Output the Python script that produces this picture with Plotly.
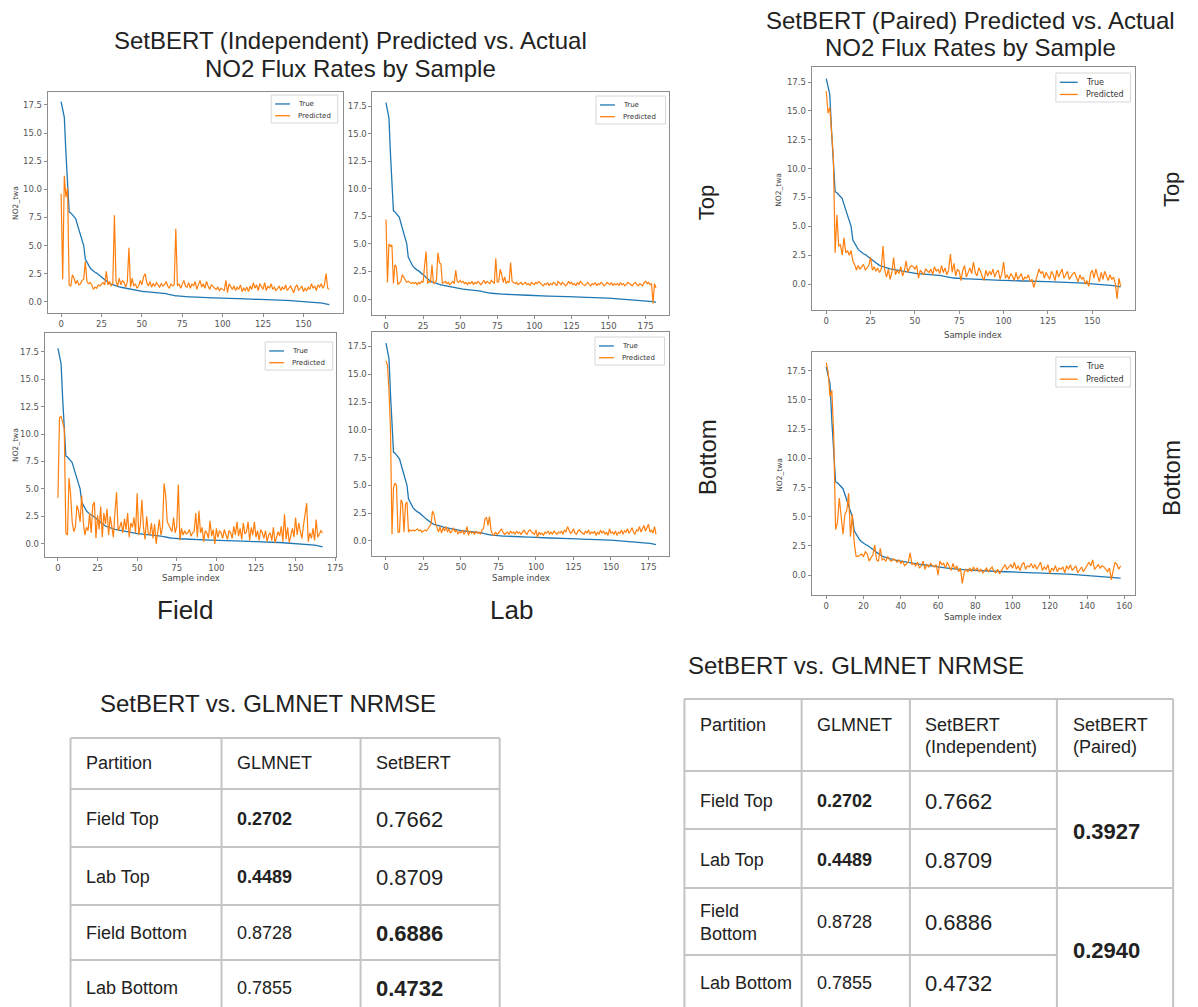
import plotly.graph_objects as go

W, H = 1198, 1007

# ---------------- data ----------------
TRUE_HEAD = [17.8, 17.1, 16.4, 13.2, 10.1, 8.0, 7.9, 7.7, 7.5, 7.4,
             6.9, 6.4, 6.0, 5.4, 5.0, 3.8, 3.5, 3.2, 3.0, 2.85,
             2.7, 2.62, 2.55, 2.45, 2.35, 2.22, 2.08, 1.95, 1.83, 1.72,
             1.62, 1.56, 1.5, 1.45, 1.4, 1.36, 1.32, 1.29, 1.26, 1.23,
             1.2, 1.17, 1.14, 1.1, 1.07, 1.03, 1.0, 0.98, 0.96, 0.94]

TRUE_TAIL_A = [0.92, 0.91, 0.90, 0.89, 0.88, 0.87, 0.86, 0.85, 0.84, 0.83,
               0.82, 0.80, 0.78, 0.76, 0.74, 0.72, 0.68, 0.64, 0.60, 0.57,
               0.55, 0.53, 0.52, 0.50, 0.49, 0.48, 0.47, 0.46, 0.45, 0.44,
               0.44, 0.43, 0.43, 0.42, 0.41, 0.41, 0.40, 0.40, 0.39, 0.38,
               0.38, 0.37, 0.37, 0.36, 0.35, 0.35, 0.34, 0.34, 0.33, 0.32,
               0.32, 0.31, 0.31, 0.30, 0.30, 0.29, 0.29, 0.28, 0.28, 0.27,
               0.27, 0.26, 0.26, 0.25, 0.25, 0.24, 0.24, 0.23, 0.23, 0.22,
               0.22, 0.22, 0.21, 0.21, 0.20, 0.20, 0.19, 0.19, 0.18, 0.18,
               0.18, 0.17, 0.17, 0.16, 0.15, 0.15, 0.14, 0.14, 0.13, 0.12,
               0.12, 0.11, 0.10, 0.10, 0.09, 0.08, 0.08, 0.07, 0.06, 0.05,
               0.05, 0.04, 0.03, 0.02, 0.01, 0.00, -0.01, -0.03, -0.05, -0.07,
               -0.08, -0.10, -0.13, -0.16, -0.19, -0.22, -0.25]

TRUE_TAIL_B = [0.92, 0.91, 0.90, 0.89, 0.88, 0.87, 0.86, 0.85, 0.84, 0.83,
               0.82, 0.80, 0.78, 0.76, 0.74, 0.71, 0.67, 0.63, 0.60, 0.57,
               0.55, 0.53, 0.52, 0.50, 0.49, 0.48, 0.47, 0.46, 0.45, 0.44,
               0.44, 0.43, 0.43, 0.42, 0.41, 0.41, 0.40, 0.40, 0.39, 0.38,
               0.38, 0.37, 0.37, 0.36, 0.35, 0.35, 0.34, 0.34, 0.33, 0.32,
               0.32, 0.31, 0.31, 0.30, 0.30, 0.29, 0.29, 0.28, 0.28, 0.27,
               0.27, 0.26, 0.26, 0.25, 0.25, 0.24, 0.24, 0.23, 0.23, 0.22,
               0.22, 0.22, 0.21, 0.21, 0.20, 0.20, 0.19, 0.19, 0.18, 0.18,
               0.18, 0.17, 0.17, 0.16, 0.15, 0.15, 0.14, 0.14, 0.13, 0.12,
               0.12, 0.11, 0.10, 0.10, 0.09, 0.08, 0.08, 0.07, 0.06, 0.05,
               0.05, 0.04, 0.03, 0.02, 0.01, 0.00, -0.01, -0.02, -0.04, -0.06,
               -0.08, -0.10, -0.12, -0.15, -0.18, -0.21, -0.24, -0.27]

TRUE_TAIL_C = [0.92, 0.91, 0.90, 0.89, 0.88, 0.87, 0.86, 0.85, 0.84, 0.83,
               0.82, 0.80, 0.78, 0.75, 0.72, 0.68, 0.64, 0.60, 0.57, 0.55,
               0.53, 0.52, 0.50, 0.49, 0.48, 0.47, 0.46, 0.45, 0.44, 0.44,
               0.43, 0.43, 0.42, 0.41, 0.41, 0.40, 0.40, 0.39, 0.38, 0.38,
               0.37, 0.37, 0.36, 0.35, 0.35, 0.34, 0.34, 0.33, 0.33, 0.32,
               0.32, 0.31, 0.31, 0.30, 0.30, 0.29, 0.29, 0.28, 0.28, 0.27,
               0.27, 0.26, 0.26, 0.25, 0.25, 0.24, 0.24, 0.23, 0.23, 0.22,
               0.22, 0.22, 0.21, 0.21, 0.20, 0.20, 0.19, 0.19, 0.18, 0.18,
               0.18, 0.17, 0.17, 0.16, 0.16, 0.15, 0.15, 0.14, 0.14, 0.13,
               0.13, 0.12, 0.12, 0.11, 0.11, 0.10, 0.10, 0.09, 0.09, 0.08,
               0.08, 0.07, 0.07, 0.06, 0.05, 0.05, 0.04, 0.03, 0.03, 0.02,
               0.01, 0.00, -0.01, -0.02, -0.03, -0.04, -0.05, -0.06, -0.07, -0.08,
               -0.09, -0.10, -0.11, -0.12, -0.13, -0.14, -0.16, -0.18, -0.20, -0.22,
               -0.24, -0.27, -0.30]

TRUE_TAIL_D = [0.92, 0.91, 0.90, 0.89, 0.88, 0.87, 0.86, 0.85, 0.84, 0.83,
               0.82, 0.80, 0.78, 0.75, 0.72, 0.68, 0.64, 0.60, 0.57, 0.55,
               0.53, 0.52, 0.50, 0.49, 0.48, 0.47, 0.46, 0.45, 0.44, 0.44,
               0.43, 0.43, 0.42, 0.41, 0.41, 0.40, 0.40, 0.39, 0.38, 0.38,
               0.37, 0.37, 0.36, 0.35, 0.35, 0.34, 0.34, 0.33, 0.33, 0.32,
               0.32, 0.31, 0.31, 0.30, 0.30, 0.29, 0.29, 0.28, 0.28, 0.27,
               0.27, 0.26, 0.26, 0.25, 0.25, 0.24, 0.24, 0.23, 0.23, 0.22,
               0.22, 0.22, 0.21, 0.21, 0.20, 0.20, 0.19, 0.19, 0.18, 0.18,
               0.18, 0.17, 0.17, 0.16, 0.16, 0.15, 0.15, 0.14, 0.14, 0.13,
               0.13, 0.12, 0.12, 0.11, 0.11, 0.10, 0.10, 0.09, 0.09, 0.08,
               0.08, 0.07, 0.07, 0.06, 0.05, 0.05, 0.04, 0.03, 0.03, 0.02,
               0.01, 0.00, -0.01, -0.02, -0.03, -0.04, -0.05, -0.06, -0.07, -0.08,
               -0.09, -0.11, -0.13, -0.15, -0.17, -0.19, -0.21, -0.23, -0.26, -0.29,
               -0.32]

TRUE_TAIL_E = [0.92, 0.90, 0.89, 0.87, 0.86, 0.84, 0.83, 0.81, 0.80, 0.78,
               0.76, 0.74, 0.71, 0.68, 0.64, 0.60, 0.57, 0.55, 0.53, 0.51,
               0.50, 0.49, 0.48, 0.47, 0.46, 0.45, 0.44, 0.43, 0.42, 0.41,
               0.41, 0.40, 0.39, 0.38, 0.38, 0.37, 0.36, 0.35, 0.35, 0.34,
               0.33, 0.33, 0.32, 0.31, 0.31, 0.30, 0.29, 0.29, 0.28, 0.27,
               0.27, 0.26, 0.26, 0.25, 0.24, 0.24, 0.23, 0.23, 0.22, 0.21,
               0.21, 0.20, 0.20, 0.19, 0.18, 0.18, 0.17, 0.17, 0.16, 0.15,
               0.15, 0.14, 0.13, 0.13, 0.12, 0.11, 0.11, 0.10, 0.09, 0.08,
               0.08, 0.07, 0.06, 0.05, 0.05, 0.04, 0.03, 0.02, 0.01, 0.00,
               -0.01, -0.02, -0.03, -0.04, -0.05, -0.06, -0.07, -0.08, -0.09, -0.10,
               -0.11, -0.12, -0.13, -0.14, -0.16, -0.18, -0.20, -0.22, -0.25]

field_top_true = TRUE_HEAD + TRUE_TAIL_A
field_bottom_true = TRUE_HEAD + TRUE_TAIL_B
lab_top_true = TRUE_HEAD + TRUE_TAIL_C
lab_bottom_true = TRUE_HEAD + TRUE_TAIL_D
paired_top_true = TRUE_HEAD + TRUE_TAIL_A
paired_bottom_true = TRUE_HEAD + TRUE_TAIL_E

field_top_pred = [9.6, 2.0, 11.2, 9.3, 10.1, 1.5, 1.4, 2.4, 2.1, 1.6,
                  1.9, 1.5, 1.6, 1.9, 2.0, 3.6, 1.8, 1.6, 1.7, 1.5,
                  1.1, 1.3, 1.2, 1.5, 1.4, 1.6, 1.7, 1.5, 2.7, 1.5,
                  1.8, 1.4, 1.6, 7.7, 1.8, 1.4, 2.1, 1.5, 1.9, 1.7,
                  1.3, 1.8, 4.8, 1.3, 2.1, 1.4, 1.6, 1.2, 1.4, 1.9,
                  1.5, 2.2, 2.5, 1.7, 1.4, 1.8, 1.3, 1.6, 1.4, 1.7,
                  1.5, 1.3, 1.6, 1.4, 1.5, 1.8, 1.4, 1.2, 1.6, 1.4,
                  1.5, 6.5, 1.4, 1.6, 1.2, 1.5, 1.9, 1.4, 1.3, 1.7,
                  1.2, 1.6, 1.4, 1.8, 1.1, 1.5, 1.9, 1.3, 1.6, 1.2,
                  1.8, 1.4, 1.1, 1.5, 1.3, 1.2, 1.1, 1.3, 1.0, 1.2,
                  1.1, 1.0, 1.9, 0.8, 1.6, 1.3, 1.1, 1.4, 1.0, 1.3,
                  1.1, 1.5, 0.9, 1.2, 1.0, 1.3, 0.9, 1.4, 1.1, 1.7,
                  1.2, 1.5, 1.0, 1.6, 1.3, 1.1, 1.7, 1.0, 1.4, 1.2,
                  1.6, 1.1, 1.3, 1.0, 1.2, 1.4, 1.0, 1.3, 1.1, 1.5,
                  1.0, 1.2, 1.4, 1.1, 0.8, 1.3, 1.5, 1.0, 1.2, 1.4,
                  0.9, 1.2, 1.0, 1.3, 1.1, 1.6, 1.2, 1.4, 1.0, 1.5,
                  1.3, 1.6, 1.2, 1.5, 2.5, 1.2, 1.1]

field_bottom_pred = [4.2, 11.5, 11.6, 11.0, 10.5, 1.0, 0.8, 6.0, 4.5, 2.0,
                     1.1, 1.5, 3.5, 3.0, 2.0, 4.4, 2.0, 0.8, 1.5, 1.2,
                     2.8, 1.0, 3.5, 3.8, 0.5, 2.6, 1.3, 3.4, 0.6, 2.8,
                     1.8, 3.2, 0.8, 2.5, 1.6, 0.6, 2.9, 4.7, 1.2, 1.5,
                     2.0, 1.0, 2.3, 1.3, 2.8, 0.6, 1.9, 1.5, 2.4, 1.0,
                     4.6, 0.8, 1.7, 4.0, 1.5, 0.4, 2.5, 1.0, 0.8, 1.9,
                     0.5, 1.8, 0.0, 1.4, 2.2, 0.8, 1.5, 5.5, 4.4, 2.0,
                     1.7, 1.3, 1.1, 2.4, 1.0, 1.6, 5.4, 0.3, 1.4, 0.8,
                     1.2, 0.9, 1.0, 1.3, 0.7, 1.0, 1.1, 2.8, 0.6, 3.0,
                     1.0, 1.5, 0.2, 1.2, 1.0, 0.5, 2.1, 0.7, 1.3, 0.0,
                     1.4, 0.6, 1.2, 1.0, 0.5, 1.3, 0.9, 0.4, 1.2, 1.0,
                     0.5, 1.6, 0.8, 2.0, 0.7, 1.4, 0.4, 1.9, 0.9, 1.1,
                     2.0, 0.3, 1.5, 0.8, 2.0, 0.6, 1.2, 0.3, 1.3, 1.0,
                     0.5, 1.2, 0.2, 0.8, 1.0, 0.3, 1.5, 0.1, 0.6, 1.1,
                     0.7, 1.6, 0.2, 2.7, 0.4, 1.5, 0.1, 0.9, 1.4, 0.6,
                     2.4, 0.8, 1.9, 1.1, 0.5, 1.7, 2.9, 3.7, 0.2, 1.0,
                     0.5, 1.4, 0.3, 2.2, 0.6, 0.9, 1.2, 1.0]

lab_top_pred = [7.2, 1.5, 5.0, 4.8, 4.9, 1.4, 3.1, 2.9, 1.3, 1.5,
                1.6, 2.2, 2.0, 1.8, 1.5, 1.6, 1.5, 1.4, 1.5, 1.4,
                1.5, 1.3, 1.5, 1.4, 1.6, 1.5, 3.0, 4.3, 1.4, 1.6,
                1.5, 3.1, 1.4, 1.5, 1.7, 4.2, 3.3, 3.2, 1.4, 1.5,
                1.6, 1.4, 1.5, 1.3, 1.5, 1.6, 1.4, 2.6, 1.6, 1.5,
                1.7, 1.5, 1.6, 1.4, 1.5, 1.3, 1.5, 1.4, 1.6, 1.3,
                1.5, 1.4, 1.6, 1.4, 1.3, 1.5, 1.7, 1.4, 1.6, 1.5,
                1.4, 1.7, 1.5, 1.4, 3.7, 1.5, 1.6, 2.7, 2.2, 1.5,
                2.0, 1.4, 1.6, 1.5, 3.3, 1.6, 1.5, 1.4, 1.5, 1.3,
                1.4, 1.5, 1.3, 1.4, 1.5, 1.3, 1.4, 1.2, 1.5, 1.4,
                1.3, 1.5, 1.4, 1.6, 1.4, 1.3, 1.2, 1.4, 1.3, 1.5,
                1.2, 1.4, 1.3, 1.5, 1.4, 1.2, 1.6, 1.4, 1.3, 1.5,
                1.4, 1.2, 1.3, 1.6, 1.4, 1.5, 1.3, 1.4, 1.2, 1.5,
                1.3, 1.6, 1.4, 1.3, 1.2, 1.4, 1.5, 1.3, 1.2, 1.4,
                1.3, 1.5, 1.2, 1.4, 1.3, 1.5, 1.4, 1.2, 1.3, 1.5,
                1.4, 1.3, 1.5, 1.2, 1.4, 1.3, 1.4, 1.2, 1.5, 1.3,
                1.4, 1.2, 1.3, 1.5, 1.4, 1.3, 1.2, 1.4, 1.5, 1.3,
                1.2, 1.4, 1.3, 1.2, 1.5, 1.6, 1.4, 1.5, 1.3, 1.4,
                -0.4, 1.4, 1.0]

lab_bottom_pred = [16.2, 15.8, 13.5, 10.0, 0.6, 4.8, 5.2, 5.0, 0.8, 0.8,
                   3.7, 3.4, 0.8, 3.3, 3.5, 0.8, 1.0, 0.9, 1.0, 0.9,
                   1.0, 1.1, 0.9, 1.0, 0.8, 0.9, 1.0, 0.9, 1.1, 1.3,
                   1.5, 2.7, 2.4, 1.6, 1.2, 0.8, 1.3, 0.7, 1.2, 0.9,
                   1.3, 0.8, 1.1, 0.7, 0.9, 1.2, 0.8, 1.0, 0.6, 0.9,
                   0.7, 1.0, 0.6, 0.8, 1.3, 0.5, 0.9, 0.7, 0.8, 0.6,
                   0.9, 0.7, 0.8, 0.6, 1.0, 1.1, 2.0, 2.1, 1.4, 2.2,
                   1.0, 0.6, 0.5, 0.8, 0.6, 0.7, 0.9, 1.1, 0.8, 0.6,
                   0.7, 0.8, 0.6, 0.9, 0.7, 0.8, 0.6, 0.9, 0.7, 0.8,
                   0.6, 0.8, 1.0, 0.7, 0.6, 0.9, 1.0, 0.8, 0.7, 0.6,
                   1.0, 0.3, 0.8, 0.6, 0.7, 0.5, 0.8, 0.7, 0.9, 0.6,
                   0.8, 0.6, 0.9, 0.7, 0.6, 0.8, 0.7, 0.9, 0.6, 1.0,
                   0.8, 1.3, 0.9, 0.7, 0.8, 1.1, 0.7, 0.6, 0.9, 1.0,
                   0.8, 0.7, 0.6, 0.9, 0.7, 1.0, 0.6, 0.8, 0.7, 0.9,
                   0.5, 0.8, 0.6, 1.0, 0.7, 0.9, 0.6, 0.8, 0.5, 1.1,
                   0.7, 0.8, 0.6, 0.9, 0.5, 0.8, 0.7, 1.0, 0.6, 0.9,
                   0.8, 1.1, 0.7, 0.9, 1.2, 0.8, 0.6, 1.0, 0.9, 1.3,
                   0.8, 1.1, 1.4, 0.9, 1.2, 1.5, 0.8, 1.0, 0.7, 1.3,
                   0.6]

paired_top_pred = [16.7, 14.8, 15.3, 13.0, 11.0, 2.7, 6.0, 3.3, 3.4, 2.5,
                   4.0, 2.7, 2.9, 2.5, 2.9, 2.0, 1.7, 1.2, 1.6, 1.3,
                   1.5, 1.7, 1.2, 1.4, 1.6, 2.3, 1.2, 1.5, 1.1, 1.4,
                   1.0, 1.3, 3.3, 1.2, 0.6, 1.3, 0.4, 1.0, 2.3, 0.8,
                   1.2, 0.9, 1.5, 0.7, 1.1, 2.0, 1.0, 1.4, 1.6, 1.5,
                   1.3, 1.6, 0.5, 1.2, 1.0, 0.8, 1.3, 1.1, 1.0, 1.3,
                   0.8, 1.5, 1.1, 1.3, 0.9, 1.6, 1.0, 1.4, 0.8, 1.2,
                   2.6, 1.0, 1.8, 0.7, 1.3, 1.1, 0.3, 1.2, 1.6, 0.6,
                   1.0, 1.4, 0.9, 1.9, 1.0, 0.7, 1.4, 1.1, 0.6, 0.3,
                   1.2, 0.7, 1.1, 0.8, 1.3, 0.6, 1.0, 1.2, 0.4, 0.9,
                   1.9, 0.5, 0.8, 0.4, 0.9, 0.7, 0.3, 1.0, 0.4, 0.6,
                   0.9, 0.3, 0.6, 0.5, 0.8, 0.2, 0.4, -0.3, 0.3, 0.7,
                   1.3, 0.9, 1.1, 0.5, 1.0, 0.7, 0.4, 1.1, 0.8, 0.3,
                   1.2, 0.6, 0.9, 1.3, 0.5, 0.8, 1.1, 0.4, 0.7, 0.9,
                   1.0, 0.5, 0.2, 0.8, 0.4, 0.6, 0.0, 0.3, -0.2, 0.9,
                   1.2, 0.5, 1.3, 0.7, 0.2, 1.0, 0.4, 1.1, 0.6, 0.3,
                   0.8, 0.4, 0.6, 0.0, -1.3, 0.5, -0.2]

paired_bottom_pred = [18.2, 17.4, 15.3, 15.8, 12.0, 3.9, 4.5, 6.6, 5.0, 3.5,
                      5.2, 5.5, 7.0, 3.3, 5.2, 2.8, 1.6, 1.6, 1.7, 1.8,
                      1.6, 2.0, 1.8, 1.2, 1.5, 1.7, 2.6, 1.3, 1.2, 2.3,
                      1.3, 1.4, 1.2, 1.6, 1.3, 1.2, 1.4, 1.3, 1.1, 1.3,
                      1.0, 1.2, 0.8, 1.0, 1.1, 1.9, 0.9, 1.0, 0.8, 1.1,
                      0.6, 0.8, 1.2, 0.5, 0.9, 0.7, 1.0, 0.8, 0.7, 0.9,
                      0.0, 1.2, 0.9, 1.0, 0.6, 1.1, 0.7, 0.4, 1.0, 0.5,
                      0.8, 0.3, 0.6, -0.7, 0.2, 0.5, 0.3, 0.6, 0.3, 0.7,
                      0.4, 0.6, 0.3, 0.5, 0.2, 0.4, 0.6, 0.3, 0.5, 0.7,
                      0.3, 0.2, 0.5, 0.1, 0.4, 0.6, 0.9, 0.5, 0.7, 0.9,
                      0.6, 1.1, 0.5, 0.8, 0.4, 0.9, 1.1, 0.5, 0.8, 0.7,
                      1.0, 0.6, 0.9, 0.5, 0.8, 1.1, 0.4, 0.7, 0.5, 0.9,
                      0.1, 0.6, 0.4, 0.8, 0.3, 0.6, 0.5, 0.7, 0.2, 0.8,
                      0.5, 0.9, 0.4, 0.6, 0.8, 0.2, 0.5, 0.7, 0.3, 0.6,
                      0.9, 1.1, 0.8, 1.3, 0.5, 0.7, 0.9, 0.6, 0.8, 0.7,
                      0.5, 0.3, 0.6, -0.4, 0.4, 1.1, 0.9, 0.5, 0.8]

series_names = ["True", "Predicted"]

# Table data
partitions = ["Field Top", "Lab Top", "Field Bottom", "Lab Bottom"]
partitions_wrapped = ["Field Top", "Lab Top", "Field<br>Bottom", "Lab Bottom"]
glmnet_nrmse = [0.2702, 0.4489, 0.8728, 0.7855]
setbert_ind_nrmse = [0.7662, 0.8709, 0.6886, 0.4732]
setbert_paired_nrmse = [0.3927, 0.2940]   # Top pair, Bottom pair

# ---------------- layout helpers ----------------
def fx(p):
    return p / W

def fy(p):
    return 1 - p / H

BLUE = "#1f77b4"
ORANGE = "#ff7f0e"
TXT = "#222222"
SANS = "Liberation Sans, Arial, sans-serif"
MPL = "DejaVu Sans"
TICKF = dict(family=MPL, size=8.5, color="#555555")

panels = [
    dict(t=field_top_true, p=field_top_pred, box=(48, 92, 345, 313),
         xr=[-8.3, 174.3], yr=[-1.0, 18.65], dt=25, leg=(340, 95, 67, 28, 7)),
    dict(t=lab_top_true, p=lab_top_pred, box=(375, 92, 674, 315),
         xr=[-9.1, 191.1], yr=[-1.45, 18.77], dt=25, leg=(670, 96, 70, 28, 7)),
    dict(t=field_bottom_true, p=field_bottom_pred, box=(45, 333, 338, 557),
         xr=[-8.35, 175.35], yr=[-1.2, 19.2], dt=25, leg=(335, 342, 68, 28, 7)),
    dict(t=lab_bottom_true, p=lab_bottom_pred, box=(375, 332, 674, 556),
         xr=[-9.0, 189.0], yr=[-1.35, 18.8], dt=25, leg=(669, 337, 70, 28, 7)),
    dict(t=paired_top_true, p=paired_top_pred, box=(817, 67, 1143, 310),
         xr=[-8.3, 174.3], yr=[-2.25, 18.8], dt=25, leg=(1138, 73, 75, 29, 8)),
    dict(t=paired_bottom_true, p=paired_bottom_pred, box=(817, 352, 1143, 595),
         xr=[-7.9, 165.9], yr=[-1.7, 19.1], dt=20, leg=(1138, 357, 75, 30, 8)),
]

fig = go.Figure()
layout = dict(width=W, height=H, margin=dict(l=0, r=0, t=0, b=0),
              paper_bgcolor="white", plot_bgcolor="white", showlegend=False)

annotations = []
shapes = []

def txt(x, y, s, size, xanchor="center", angle=0, color=TXT, font=SANS):
    annotations.append(dict(x=fx(x), y=fy(y), xref="paper", yref="paper", text=s,
                            showarrow=False, xanchor=xanchor, yanchor="middle",
                            align="left" if xanchor == "left" else "center",
                            textangle=angle, font=dict(family=font, size=size, color=color)))

for i, pn in enumerate(panels):
    k = i + 1
    xa = "x" if k == 1 else f"x{k}"
    ya = "y" if k == 1 else f"y{k}"
    x0, y0, x1, y1 = pn["box"]
    fig.add_trace(go.Scatter(x=list(range(len(pn["t"]))), y=pn["t"], mode="lines",
                             name=series_names[0], line=dict(color=BLUE, width=1.3),
                             xaxis=xa, yaxis=ya))
    fig.add_trace(go.Scatter(x=list(range(len(pn["p"]))), y=pn["p"], mode="lines",
                             name=series_names[1], line=dict(color=ORANGE, width=1.2),
                             xaxis=xa, yaxis=ya))
    axcommon = dict(showline=True, mirror=True, linecolor="#8c8c8c", linewidth=1,
                    ticks="outside", ticklen=3, tickcolor="#8c8c8c", tickfont=TICKF,
                    showgrid=False, zeroline=False)
    layout["xaxis" if k == 1 else f"xaxis{k}"] = dict(
        domain=[fx(x0), fx(x1)], range=pn["xr"], anchor=ya, tick0=0, dtick=pn["dt"],
        **axcommon)
    layout["yaxis" if k == 1 else f"yaxis{k}"] = dict(
        domain=[fy(y1), fy(y0)], range=pn["yr"], anchor=xa, tick0=0, dtick=2.5,
        tickformat=".1f", **axcommon)
    # matplotlib-style legend box (drawn in paper space)
    lr, lt, lw, lh, lf = pn["leg"]
    ll = lr - lw
    shapes.append(dict(type="rect", xref="paper", yref="paper",
                       x0=fx(ll), x1=fx(lr), y0=fy(lt + lh), y1=fy(lt),
                       line=dict(color="#d6d6d6", width=1), fillcolor="rgba(255,255,255,0.85)"))
    seg = 15 if lf == 7 else 18
    for j, (nm, col) in enumerate(zip(series_names, [BLUE, ORANGE])):
        yy = lt + (lh * 0.32 if j == 0 else lh * 0.74)
        shapes.append(dict(type="line", xref="paper", yref="paper",
                           x0=fx(ll + 4), x1=fx(ll + 4 + seg), y0=fy(yy), y1=fy(yy),
                           line=dict(color=col, width=1.3)))
        txt(ll + 10 + seg, yy, nm, lf, xanchor="left", color="#333", font=MPL)

# Titles
txt(353, 40, "SetBERT (Independent) Predicted vs. Actual", 24)
txt(353, 68, "NO2 Flux Rates by Sample", 24)
txt(977, 20, "SetBERT (Paired) Predicted vs. Actual", 24)
txt(977, 48, "NO2 Flux Rates by Sample", 24)

# Row / column labels
txt(711, 203, "Top", 22, angle=-90)
txt(712, 457, "Bottom", 24, angle=-90)
txt(1180, 190, "Top", 22, angle=-90)
txt(1180, 478, "Bottom", 24, angle=-90)
txt(186, 610, "Field", 26)
txt(515, 610, "Lab", 26)

# Axis labels
txt(15, 203, "NO2_twa", 7.5, angle=-90, color="#444", font=MPL)
txt(15, 445, "NO2_twa", 7.5, angle=-90, color="#444", font=MPL)
txt(784, 190, "NO2_twa", 7.5, angle=-90, color="#444", font=MPL)
txt(784, 475, "NO2_twa", 7.5, angle=-90, color="#444", font=MPL)
txt(192, 578, "Sample index", 8.5, color="#444", font=MPL)
txt(524, 578, "Sample index", 8.5, color="#444", font=MPL)
txt(980, 335, "Sample index", 8.5, color="#444", font=MPL)
txt(980, 617, "Sample index", 8.5, color="#444", font=MPL)

# Table titles
txt(270, 703, "SetBERT vs. GLMNET NRMSE", 24)
txt(862, 665, "SetBERT vs. GLMNET NRMSE", 24)

GRID = "#c4c4c4"

def hline(x0, x1, y):
    shapes.append(dict(type="line", xref="paper", yref="paper", x0=fx(x0), x1=fx(x1),
                       y0=fy(y), y1=fy(y), line=dict(color=GRID, width=2)))

def vline(x, y0, y1):
    shapes.append(dict(type="line", xref="paper", yref="paper", x0=fx(x), x1=fx(x),
                       y0=fy(y0), y1=fy(y1), line=dict(color=GRID, width=2)))

HDR = 18
BIG = 22

# Left table
Lcols = [71, 223, 363, 503]
Lrows = [738, 789, 847, 905, 960]
for yv in Lrows:
    hline(Lcols[0], Lcols[-1], yv)
for xv in Lcols:
    vline(xv, Lrows[0], H)
txt(85, 763, "Partition", HDR, xanchor="left")
txt(237, 763, "GLMNET", HDR, xanchor="left")
txt(377, 763, "SetBERT", HDR, xanchor="left")
row_y = [819, 877, 933, 988]
for r in range(4):
    g, s = glmnet_nrmse[r], setbert_ind_nrmse[r]
    txt(85, row_y[r], partitions[r], HDR, xanchor="left")
    gs = f"{g:.4f}"
    ss = f"{s:.4f}"
    txt(237, row_y[r], f"<b>{gs}</b>" if g < s else gs, HDR, xanchor="left")
    txt(377, row_y[r], f"<b>{ss}</b>" if s < g else ss, BIG, xanchor="left")

# Right table
Rcols = [689, 807, 916, 1064, 1181]
hline(Rcols[0], Rcols[-1], 699)
hline(Rcols[0], Rcols[-1], 771)
hline(Rcols[0], Rcols[3], 829)
hline(Rcols[0], Rcols[-1], 888)
hline(Rcols[0], Rcols[3], 955)
for xv in Rcols:
    vline(xv, 699, H)
txt(703, 725, "Partition", HDR, xanchor="left")
txt(820, 725, "GLMNET", HDR, xanchor="left")
txt(929, 725, "SetBERT", HDR, xanchor="left")
txt(929, 747, "(Independent)", HDR, xanchor="left")
txt(1078, 725, "SetBERT", HDR, xanchor="left")
txt(1078, 747, "(Paired)", HDR, xanchor="left")
rrow_y = [801, 860, 922, 983]
for r in range(4):
    txt(703, rrow_y[r], partitions_wrapped[r], HDR, xanchor="left")
    gs = f"{glmnet_nrmse[r]:.4f}"
    txt(820, rrow_y[r], f"<b>{gs}</b>" if r < 2 else gs, HDR, xanchor="left")
    txt(929, rrow_y[r], f"{setbert_ind_nrmse[r]:.4f}", BIG, xanchor="left")
txt(1078, 831, f"<b>{setbert_paired_nrmse[0]:.4f}</b>", BIG, xanchor="left")
txt(1078, 950, f"<b>{setbert_paired_nrmse[1]:.4f}</b>", BIG, xanchor="left")

layout["annotations"] = annotations
layout["shapes"] = shapes
fig.update_layout(**layout)
fig.write_html("out.html")
